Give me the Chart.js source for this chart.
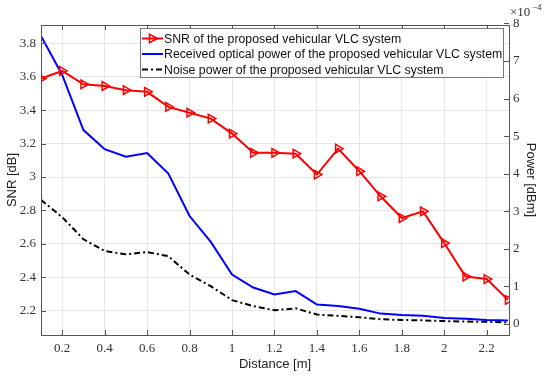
<!DOCTYPE html>
<html>
<head>
<meta charset="utf-8">
<script src="https://cdn.jsdelivr.net/npm/chart.js@4"></script>
<style>
  html, body { margin: 0; padding: 0; background: #fff; }
  #wrap { width: 550px; height: 378px; }
</style>
</head>
<body>
<div id="wrap"><canvas id="chart" width="550" height="378"></canvas></div>
<script>
// distance [m]
const distance = [0.1, 0.2, 0.3, 0.4, 0.5, 0.6, 0.7, 0.8, 0.9, 1.0, 1.1, 1.2,
  1.3, 1.4, 1.5, 1.6, 1.7, 1.8, 1.9, 2.0, 2.1, 2.2, 2.3];
// SNR [dB], left axis
const snr = [3.59, 3.635, 3.555, 3.545, 3.52, 3.51, 3.42, 3.385, 3.35, 3.26, 3.145, 3.145,
  3.14, 3.015, 3.17, 3.035, 2.885, 2.755, 2.795, 2.605, 2.405, 2.39, 2.265];
// received optical power, right axis (x 1e-4)
const rxPower = [7.67, 6.63, 5.16, 4.65, 4.45, 4.55, 4.0, 2.87, 2.18, 1.31, 0.965, 0.78,
  0.87, 0.51, 0.47, 0.4, 0.27, 0.23, 0.21, 0.155, 0.13, 0.1, 0.085];
// noise power, right axis (x 1e-4)
const noisePower = [3.3, 2.84, 2.25, 1.94, 1.85, 1.91, 1.8, 1.31, 1.0, 0.63, 0.47, 0.36,
  0.41, 0.245, 0.21, 0.17, 0.12, 0.1, 0.09, 0.07, 0.06, 0.05, 0.035];

const xTicks = [0.2, 0.4, 0.6, 0.8, 1, 1.2, 1.4, 1.6, 1.8, 2, 2.2];
const snrTicks = [2.2, 2.4, 2.6, 2.8, 3, 3.2, 3.4, 3.6, 3.8];
const powerTicks = [0, 1, 2, 3, 4, 5, 6, 7, 8];

const legendLabels = [
  'SNR of the proposed vehicular VLC system',
  'Received optical power of the proposed vehicular VLC system',
  'Noise power of the proposed vehicular VLC system'
];

const serif = '"Liberation Serif", "DejaVu Serif", serif';
const sans = '"Liberation Sans", Arial, sans-serif';
const fmt = v => String(+v.toFixed(1));
const pts = ys => ys.map((y, i) => ({ x: distance[i], y }));

// box, inward tick marks, legend and exponent label, MATLAB style
const matlabBits = {
  id: 'matlabBits',
  afterDraw(chart) {
    const { ctx, chartArea: a, scales } = chart;
    ctx.save();
    ctx.strokeStyle = '#555';
    ctx.lineWidth = 1;
    ctx.strokeRect(a.left + 0.5, a.top + 0.5, a.right - a.left, a.bottom - a.top);
    ctx.beginPath();
    xTicks.forEach(v => {
      const x = Math.round(scales.x.getPixelForValue(v)) + 0.5;
      ctx.moveTo(x, a.bottom); ctx.lineTo(x, a.bottom - 5);
      ctx.moveTo(x, a.top); ctx.lineTo(x, a.top + 5);
    });
    snrTicks.forEach(v => {
      const y = Math.round(scales.y.getPixelForValue(v)) + 0.5;
      ctx.moveTo(a.left, y); ctx.lineTo(a.left + 5, y);
    });
    powerTicks.forEach(v => {
      const y = Math.round(scales.y1.getPixelForValue(v)) + 0.5;
      ctx.moveTo(a.right, y); ctx.lineTo(a.right - 5, y);
    });
    ctx.stroke();

    // x10^-4
    ctx.fillStyle = '#333';
    ctx.font = '13px ' + serif;
    ctx.textBaseline = 'alphabetic';
    ctx.textAlign = 'left';
    ctx.fillText('\u00d710', a.right + 1, 16);
    ctx.font = '9px ' + serif;
    ctx.fillText('\u22124', a.right + 23, 10);

    // legend
    const lx = 140, ly = 28, lw = 363, lh = 49, rowH = 15.5;
    ctx.fillStyle = '#fff';
    ctx.fillRect(lx, ly, lw, lh);
    ctx.strokeStyle = '#777';
    ctx.strokeRect(lx + 0.5, ly + 0.5, lw, lh);
    ctx.font = '12.3px ' + sans;
    ctx.textBaseline = 'middle';
    chart.data.datasets.forEach((ds, i) => {
      const y = ly + 10.5 + i * rowH;
      ctx.strokeStyle = ds.borderColor;
      ctx.lineWidth = 2;
      ctx.setLineDash(ds.borderDash || []);
      ctx.beginPath();
      ctx.moveTo(lx + 2, y); ctx.lineTo(lx + 23, y);
      ctx.stroke();
      ctx.setLineDash([]);
      if (ds.pointRadius > 0) {
        ctx.beginPath();
        const cx = lx + 12.5, r = ds.pointRadius;
        ctx.moveTo(cx + r, y);
        ctx.lineTo(cx - r * 0.6, y - r * 0.85);
        ctx.lineTo(cx - r * 0.6, y + r * 0.85);
        ctx.closePath();
        ctx.lineWidth = 1.5;
        ctx.stroke();
      }
      ctx.fillStyle = '#111';
      ctx.fillText(legendLabels[i], lx + 24, y + 1);
    });
    ctx.restore();
  }
};

new Chart(document.getElementById('chart').getContext('2d'), {
  type: 'line',
  data: {
    datasets: [
      {
        label: legendLabels[0],
        data: pts(snr),
        yAxisID: 'y',
        borderColor: '#ff0000',
        borderWidth: 2,
        pointStyle: 'triangle',
        pointRotation: 90,
        pointRadius: 5,
        pointBorderWidth: 1.5,
        pointBackgroundColor: 'rgba(0,0,0,0)',
        pointBorderColor: '#ff0000'
      },
      {
        label: legendLabels[1],
        data: pts(rxPower),
        yAxisID: 'y1',
        borderColor: '#0000ff',
        borderWidth: 2,
        pointRadius: 0
      },
      {
        label: legendLabels[2],
        data: pts(noisePower),
        yAxisID: 'y1',
        borderColor: '#000000',
        borderWidth: 2,
        borderDash: [6, 3, 2, 3],
        pointRadius: 0
      }
    ]
  },
  options: {
    responsive: false,
    animation: false,
    layout: { padding: { top: 25, right: 12, bottom: 6, left: 0 } },
    plugins: { legend: { display: false }, tooltip: { enabled: false } },
    scales: {
      x: {
        type: 'linear',
        min: 0.1,
        max: 2.305,
        afterBuildTicks: s => { s.ticks = xTicks.map(value => ({ value })); },
        afterFit: s => { s.height = 37; },
        grid: { color: '#e6e6e6', drawTicks: false },
        border: { color: '#555' },
        ticks: { color: '#333', font: { family: serif, size: 13 }, padding: 6, callback: fmt, maxRotation: 0 },
        title: { display: true, text: 'Distance [m]', color: '#222', font: { family: sans, size: 13 }, padding: { top: 2, bottom: 0 } }
      },
      y: {
        position: 'left',
        min: 2.055,
        max: 3.91,
        afterBuildTicks: s => { s.ticks = snrTicks.map(value => ({ value })); },
        afterFit: s => { s.width = 41; },
        grid: { color: '#e6e6e6', drawTicks: false },
        border: { color: '#555' },
        ticks: { color: '#333', font: { family: serif, size: 13 }, padding: 5, callback: fmt },
        title: { display: true, text: 'SNR [dB]', color: '#222', font: { family: sans, size: 13 }, padding: { top: 5, bottom: 0 } }
      },
      y1: {
        position: 'right',
        min: -0.3,
        max: 7.96,
        afterBuildTicks: s => { s.ticks = powerTicks.map(value => ({ value })); },
        afterFit: s => { s.width = 29; },
        grid: { display: false, drawTicks: false },
        border: { color: '#555' },
        ticks: { color: '#333', font: { family: serif, size: 13 }, padding: 4, callback: fmt },
        title: { display: true, text: 'Power [dBm]', color: '#222', font: { family: sans, size: 13 }, padding: 0 }
      }
    }
  },
  plugins: [matlabBits]
});
</script>
</body>
</html>
